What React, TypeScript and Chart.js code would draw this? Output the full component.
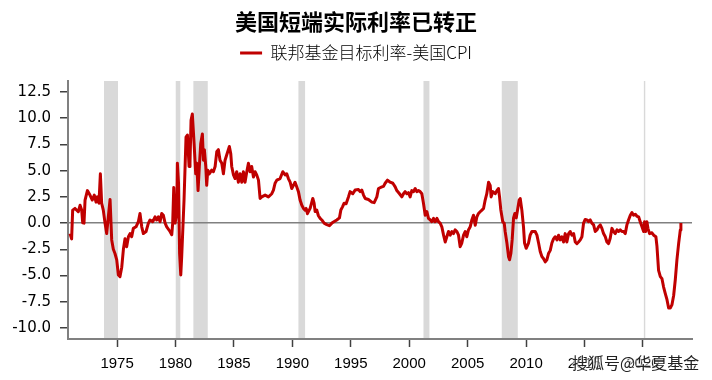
import React, { useEffect, useRef } from "react";
import { Chart, registerables } from "chart.js";

Chart.register(...registerables);

const TITLE = "美国短端实际利率已转正";
const SERIES_NAME = "联邦基金目标利率-美国CPI";
const WATERMARK = "搜狐号@华夏基金";

const years = [
  1970.97, 1971.11, 1971.2, 1971.4, 1971.68, 1971.83, 1971.97, 1972.06, 1972.17, 1972.26,
  1972.46, 1972.68, 1972.88, 1973.05, 1973.2, 1973.31, 1973.45, 1973.57, 1973.68, 1973.82,
  1973.97, 1974.11, 1974.25, 1974.4, 1974.54, 1974.68, 1974.82, 1974.97, 1975.11, 1975.25,
  1975.4, 1975.54, 1975.68, 1975.82, 1975.97, 1976.11, 1976.25, 1976.39, 1976.62, 1976.82,
  1976.96, 1977.11, 1977.25, 1977.48, 1977.68, 1977.82, 1978.05, 1978.25, 1978.39, 1978.53,
  1978.68, 1978.82, 1978.96, 1979.11, 1979.25, 1979.53, 1979.68, 1979.76, 1979.85, 1979.96,
  1980.11, 1980.16, 1980.26, 1980.35, 1980.45, 1980.53, 1980.73, 1980.9, 1981.02, 1981.16,
  1981.24, 1981.33, 1981.44, 1981.59, 1981.73, 1981.82, 1981.93, 1982.04, 1982.16, 1982.3,
  1982.39, 1982.47, 1982.59, 1982.67, 1982.76, 1982.9, 1983.1, 1983.24, 1983.39, 1983.53,
  1983.67, 1983.81, 1983.96, 1984.1, 1984.24, 1984.38, 1984.61, 1984.73, 1984.81, 1984.96,
  1985.1, 1985.24, 1985.38, 1985.53, 1985.67, 1985.81, 1985.95, 1986.1, 1986.24, 1986.38,
  1986.52, 1986.67, 1986.81, 1986.95, 1987.1, 1987.24, 1987.38, 1987.67, 1987.95, 1988.24,
  1988.38, 1988.52, 1988.67, 1988.95, 1989.18, 1989.38, 1989.52, 1989.66, 1989.81, 1989.95,
  1990.09, 1990.23, 1990.38, 1990.52, 1990.66, 1990.81, 1990.95, 1991.09, 1991.18, 1991.29,
  1991.52, 1991.75, 1991.86, 1991.95, 1992.09, 1992.23, 1992.38, 1992.52, 1992.72, 1992.95,
  1993.17, 1993.38, 1993.52, 1993.8, 1994.03, 1994.15, 1994.29, 1994.43, 1994.6, 1994.8,
  1994.94, 1995.17, 1995.37, 1995.66, 1995.8, 1995.94, 1996.09, 1996.23, 1996.51, 1996.8,
  1997.0, 1997.23, 1997.37, 1997.66, 1997.8, 1997.94, 1998.14, 1998.37, 1998.6, 1998.8,
  1998.94, 1999.17, 1999.37, 1999.51, 1999.65, 1999.8, 1999.94, 2000.08, 2000.22, 2000.37,
  2000.51, 2000.65, 2000.79, 2000.94, 2001.08, 2001.22, 2001.37, 2001.51, 2001.65, 2001.8,
  2001.94, 2002.08, 2002.22, 2002.37, 2002.51, 2002.65, 2002.79, 2002.94, 2003.08, 2003.22,
  2003.36, 2003.51, 2003.65, 2003.79, 2003.93, 2004.08, 2004.22, 2004.36, 2004.5, 2004.65,
  2004.79, 2004.93, 2005.07, 2005.22, 2005.36, 2005.5, 2005.65, 2005.79, 2005.93, 2006.07,
  2006.22, 2006.36, 2006.5, 2006.64, 2006.79, 2006.93, 2007.01, 2007.16, 2007.36, 2007.5,
  2007.64, 2007.73, 2007.84, 2008.01, 2008.13, 2008.21, 2008.36, 2008.5, 2008.59, 2008.7,
  2008.81, 2008.93, 2009.04, 2009.16, 2009.27, 2009.41, 2009.5, 2009.64, 2009.78, 2009.87,
  2010.01, 2010.21, 2010.35, 2010.5, 2010.78, 2010.93, 2011.07, 2011.21, 2011.36, 2011.5,
  2011.64, 2011.78, 2011.92, 2012.07, 2012.21, 2012.35, 2012.49, 2012.64, 2012.78, 2012.92,
  2013.06, 2013.21, 2013.35, 2013.49, 2013.64, 2013.78, 2013.92, 2014.07, 2014.21, 2014.35,
  2014.49, 2014.64, 2014.78, 2014.92, 2015.06, 2015.21, 2015.35, 2015.49, 2015.63, 2015.78,
  2015.92, 2016.06, 2016.21, 2016.35, 2016.49, 2016.63, 2016.78, 2016.92, 2017.06, 2017.2,
  2017.35, 2017.49, 2017.63, 2017.78, 2017.92, 2018.06, 2018.2, 2018.35, 2018.49, 2018.63,
  2018.77, 2018.92, 2019.06, 2019.2, 2019.35, 2019.49, 2019.63, 2019.77, 2019.92, 2020.06,
  2020.14, 2020.23, 2020.34, 2020.43, 2020.57, 2020.77, 2020.92, 2021.11, 2021.2, 2021.34,
  2021.49, 2021.63, 2021.77, 2021.91, 2022.06, 2022.2, 2022.34, 2022.48, 2022.63, 2022.77,
  2022.91, 2023.06, 2023.2, 2023.25,
];

const rates = [
  -1.0, -1.5, 1.24, 1.4, 1.08, 1.7, 1.24, 0.03, 0.0, 2.2,
  3.1, 2.67, 2.2, 2.67, 2.0, 2.5, 1.9, 4.7, 1.9, 1.24,
  0.0, -1.0, 0.6, 2.25, -1.6, -2.5, -2.9, -3.5, -4.95, -5.1,
  -4.2, -2.5, -1.5, -2.25, -1.3, -1.0, -1.3, -0.5, -0.35, 0.13,
  0.92, -0.35, -1.0, -0.8, 0.0, 0.3, 0.13, 0.6, 0.3, 0.6,
  0.13, 0.92, 0.75, 0.0, -0.35, -0.8, -1.1, 0.0, 3.4, 0.0,
  0.92, 5.7, 3.8, -2.9, -4.95, -3.2, 2.2, 8.2, 8.4, 5.4,
  5.7, 9.8, 10.4, 7.6, 4.7, 5.7, 3.1, 5.4, 7.6, 8.5,
  6.0, 7.0, 5.4, 3.6, 5.05, 4.7, 5.05, 4.9, 5.4, 6.8,
  7.0, 6.0, 5.7, 4.7, 6.0, 6.5, 7.3, 6.6, 5.4, 4.6,
  4.25, 4.9, 3.9, 4.7, 3.9, 4.9, 3.9, 4.9, 5.7, 4.9,
  5.4, 4.4, 4.9, 4.6, 4.1, 2.35, 2.5, 2.67, 2.5, 2.8,
  3.14, 3.8, 4.1, 4.25, 4.9, 4.6, 4.7, 4.25, 3.9, 3.3,
  3.6, 3.9, 3.45, 3.0, 2.2, 1.7, 1.4, 1.24, 1.4, 0.9,
  1.4, 2.35, 1.9, 1.1, 1.24, 0.7, 0.45, 0.3, 0.0, -0.15,
  -0.25, 0.0, 0.1, 0.3, 0.5, 1.25, 1.55, 1.9, 1.85, 2.5,
  3.0, 2.8, 3.15, 3.2, 3.0, 3.15, 2.67, 2.35, 2.25, 2.0,
  1.95, 2.5, 3.3, 3.45, 3.5, 3.8, 4.1, 3.9, 3.8, 3.45,
  3.1, 2.8, 2.5, 2.8, 3.0, 2.8, 2.9, 2.5, 3.1, 3.0,
  3.3, 3.0, 3.1, 3.0, 2.8, 1.9, 0.75, 1.1, 0.45, 0.3,
  0.13, 0.45, 0.13, 0.45, 0.13, 0.0, -0.35, -1.15, -1.8, -1.3,
  -0.8, -1.15, -0.8, -1.0, -0.65, -0.8, -1.15, -2.25, -1.9, -1.15,
  -0.8, -1.3, -0.65, -0.35, 0.3, 0.75, -0.2, 0.6, 0.92, 1.08,
  1.24, 1.4, 2.2, 2.8, 3.9, 3.6, 2.5, 3.0, 2.8, 3.1,
  3.3, 2.5, 1.25, 0.1, 0.0, -0.8, -1.9, -3.2, -3.5, -2.9,
  -1.6, 0.5, 0.92, 0.5, 1.24, 2.2, 2.35, 1.24, -0.35, -1.9,
  -2.4, -1.9, -1.15, -0.8, -0.8, -1.15, -1.9, -2.7, -3.2, -3.4,
  -3.7, -3.5, -2.9, -2.6, -1.9, -1.5, -1.3, -1.6, -1.15, -1.6,
  -1.3, -1.8, -1.0, -1.8, -1.0, -0.8, -1.15, -1.0, -1.8, -1.95,
  -1.8, -1.6, -1.3, 0.0, 0.35, 0.3, 0.13, 0.3, 0.0, -0.17,
  -0.8, -0.65, -0.35, -0.17, -0.5, -1.0, -1.3, -1.8, -1.95, -1.45,
  -0.5, -0.8, -1.0, -0.65, -0.8, -0.65, -0.8, -0.8, -1.0, -0.17,
  0.3, 0.75, 1.0, 0.75, 0.85, 0.65, 0.6, 0.13, -0.35, -0.8,
  0.13, -0.8, 0.13, -0.5, -1.0, -0.92, -1.15, -1.3, -2.2, -4.5,
  -5.1, -5.3, -6.1, -6.7, -7.3, -8.1, -8.1, -7.8, -6.9, -5.4,
  -3.5, -1.9, -0.65, 0.0,
];

const recessionStarts = [1973.88, 1980.02, 1981.53, 1990.52, 2001.22, 2007.92, 2020.08];
const recessionEnds = [1975.08, 1980.41, 1982.76, 1991.09, 2001.73, 2009.29, 2020.2];

const xTickValues = [1975, 1980, 1985, 1990, 1995, 2000, 2005, 2010, 2015, 2020];
const yTickValues = [-10, -7.5, -5, -2.5, 0, 2.5, 5, 7.5, 10, 12.5];

export default function App() {
  const canvasRef = useRef<HTMLCanvasElement | null>(null);

  useEffect(() => {
    if (!canvasRef.current) return;
    const bandsPlugin = {
      id: "recessionBands",
      beforeDraw(chart: any) {
        const { ctx, chartArea, scales } = chart;
        ctx.save();
        ctx.fillStyle = "#d9d9d9";
        recessionStarts.forEach((s, i) => {
          const x1 = scales.x.getPixelForValue(s);
          const x2 = scales.x.getPixelForValue(recessionEnds[i]);
          ctx.fillRect(x1, chartArea.top, Math.max(x2 - x1, 1), chartArea.bottom - chartArea.top);
        });
        ctx.restore();
      },
    };

    const chart = new Chart(canvasRef.current, {
      type: "line",
      data: {
        datasets: [
          {
            label: SERIES_NAME,
            data: years.map((y, i) => ({ x: y, y: rates[i] })),
            borderColor: "#C00000",
            backgroundColor: "#C00000",
            borderWidth: 3,
            pointRadius: 0,
            tension: 0,
            borderJoinStyle: "round",
          },
        ],
      },
      options: {
        animation: false,
        responsive: true,
        maintainAspectRatio: false,
        layout: { padding: 0 },
        plugins: {
          title: {
            display: true,
            text: TITLE,
            color: "#000",
            font: { family: "'Noto Sans CJK SC'", size: 22, weight: "bold" },
            padding: { top: 8, bottom: 2 },
          },
          subtitle: {
            display: true,
            text: "",
            weight: 500,
            font: { size: 8 },
            padding: 0,
          },
          legend: {
            display: true,
            labels: {
              boxWidth: 22,
              boxHeight: 3,
              padding: 8,
              color: "#000",
              font: { family: "'Noto Sans CJK SC'", size: 17, weight: 300 },
              generateLabels: (c: any) =>
                Chart.defaults.plugins.legend.labels
                  .generateLabels(c)
                  .map((l: any) => ({ ...l, lineWidth: 0, fillStyle: "#C00000" })),
            },
          },
          tooltip: { enabled: false },
        },
        scales: {
          x: {
            type: "linear",
            min: 1970.8,
            max: 2024.2,
            afterBuildTicks: (s: any) => {
              s.ticks = xTickValues.map((v) => ({ value: v }));
            },
            afterFit: (s: any) => {
              s.height = 41;
              s.paddingLeft = 0;
              s.paddingRight = 20;
            },
            ticks: {
              autoSkip: false,
              maxRotation: 0,
              color: "#000",
              font: { family: "'Liberation Sans'", size: 15 },
              padding: 8,
              callback: (v: any) => String(v),
            },
            grid: {
              drawOnChartArea: false,
              drawTicks: true,
              tickLength: 8,
              tickColor: "#404040",
              tickWidth: 1.5,
            },
            border: { color: "#808080", width: 2 },
          },
          y: {
            min: -11.05,
            max: 13.55,
            afterBuildTicks: (s: any) => {
              s.ticks = yTickValues.map((v) => ({ value: v }));
            },
            afterFit: (s: any) => {
              s.width = 68;
              s.paddingTop = 0;
              s.paddingBottom = 0;
            },
            ticks: {
              color: "#000",
              font: { family: "'DejaVu Sans'", size: 15 },
              padding: 9,
              callback: (v: any) => Number(v).toFixed(1),
            },
            grid: {
              color: (c: any) => (c.tick && c.tick.value === 0 ? "#808080" : "rgba(0,0,0,0)"),
              lineWidth: 1.5,
              tickLength: 8,
              tickColor: "#404040",
              tickWidth: 1.5,
            },
            border: { color: "#808080", width: 2 },
          },
        },
      },
      plugins: [bandsPlugin],
    } as any);

    return () => chart.destroy();
  }, []);

  return (
    <div style={{ position: "absolute", left: 0, top: 0, width: 712, height: 380, background: "#fff" }}>
      <canvas ref={canvasRef} />
      <div
        style={{
          position: "absolute",
          left: 572,
          top: 352,
          fontFamily: "'Noto Sans CJK SC', sans-serif",
          fontSize: 16,
          lineHeight: "20px",
          color: "#222",
          textShadow: "0 0 2px #fff, 0 0 2px #fff, 0 0 3px #fff",
          whiteSpace: "nowrap",
        }}
      >
        {WATERMARK}
      </div>
    </div>
  );
}
